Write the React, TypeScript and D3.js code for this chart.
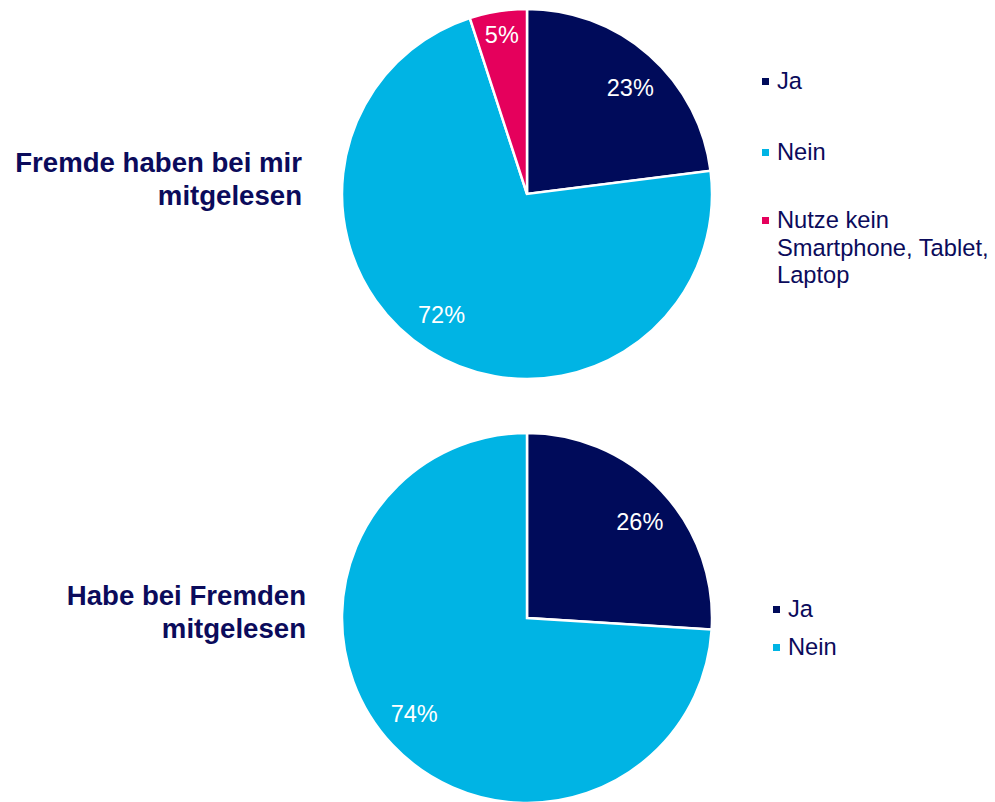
import React from "react";
import * as d3 from "d3";

const categoriesTop = ["Ja", "Nein", "Nutze kein Smartphone, Tablet, Laptop"];
const valuesTop = [23, 72, 5];
const categoriesBottom = ["Ja", "Nein"];
const valuesBottom = [26, 74];
const titleTop = ["Fremde haben bei mir", "mitgelesen"];
const titleBottom = ["Habe bei Fremden", "mitgelesen"];
const legendTopLines = [["Ja"], ["Nein"], ["Nutze kein", "Smartphone, Tablet,", "Laptop"]];
const legendBottomLines = [["Ja"], ["Nein"]];

const COLORS = ["#000b5a", "#00b4e4", "#e5005c"];
const TEXT = "#0b0b5b";
const FONT = "'Liberation Sans', Arial, sans-serif";

type PieProps = { values: number[]; cx: number; cy: number; r: number };

function Pie({ values, cx, cy, r }: PieProps) {
  const pie = d3.pie<number>().sort(null).value((d) => d);
  const arcs = pie(values);
  const arc = d3.arc<d3.PieArcDatum<number>>().innerRadius(0).outerRadius(r);
  const total = d3.sum(values);
  return (
    <g transform={`translate(${cx},${cy})`}>
      {arcs.map((a, i) => (
        <path key={i} d={arc(a) || ""} fill={COLORS[i]} stroke="#fff" strokeWidth={2.5} strokeLinejoin="miter" />
      ))}
      {arcs.map((a, i) => {
        const share = a.value / total;
        const lr = share < 0.1 ? r * 0.87 : r * 0.8;
        const mid = (a.startAngle + a.endAngle) / 2 + (share < 0.1 ? 0 : 0.05);
        const x = lr * Math.sin(mid);
        const y = -lr * Math.cos(mid);
        return (
          <text key={"t" + i} x={x} y={y + 8} textAnchor="middle" fill="#fff" fontFamily={FONT} fontSize={23.5}>
            {`${a.value}%`}
          </text>
        );
      })}
    </g>
  );
}

type LegendProps = { lines: string[][]; x: number; y0: number; gap: number[] };

function Legend({ lines, x, y0, gap }: LegendProps) {
  let y = y0;
  return (
    <g>
      {lines.map((ls, i) => {
        const baseY = y;
        y += gap[i] ?? 0;
        return (
          <g key={i}>
            <rect x={x} y={baseY - 11} width={7} height={7} fill={COLORS[i]} />
            <text fontFamily={FONT} fontSize={23.7} fill={TEXT}>
              {ls.map((l, j) => (
                <tspan key={j} x={x + 15} y={baseY + j * 27.5}>
                  {l}
                </tspan>
              ))}
            </text>
          </g>
        );
      })}
    </g>
  );
}

function Title({ lines, x, y }: { lines: string[]; x: number; y: number }) {
  return (
    <text fontFamily={FONT} fontSize={27.6} fontWeight="bold" fill={TEXT} textAnchor="end">
      {lines.map((l, i) => (
        <tspan key={i} x={x} y={y + i * 33}>
          {l}
        </tspan>
      ))}
    </text>
  );
}

export default function App() {
  React.useEffect(() => {
    document.body.style.margin = "0";
  }, []);
  return (
    <svg width={995} height={802} style={{ display: "block", background: "#fff" }}>
      <Pie values={valuesTop} cx={527} cy={194} r={185} />
      <Pie values={valuesBottom} cx={527} cy={618} r={185} />
      <Title lines={titleTop} x={302} y={172} />
      <Title lines={titleBottom} x={306} y={605} />
      <Legend lines={legendTopLines.slice(0, categoriesTop.length)} x={762} y0={89} gap={[71, 68, 0]} />
      <Legend lines={legendBottomLines.slice(0, categoriesBottom.length)} x={773} y0={617} gap={[38, 0]} />
    </svg>
  );
}
